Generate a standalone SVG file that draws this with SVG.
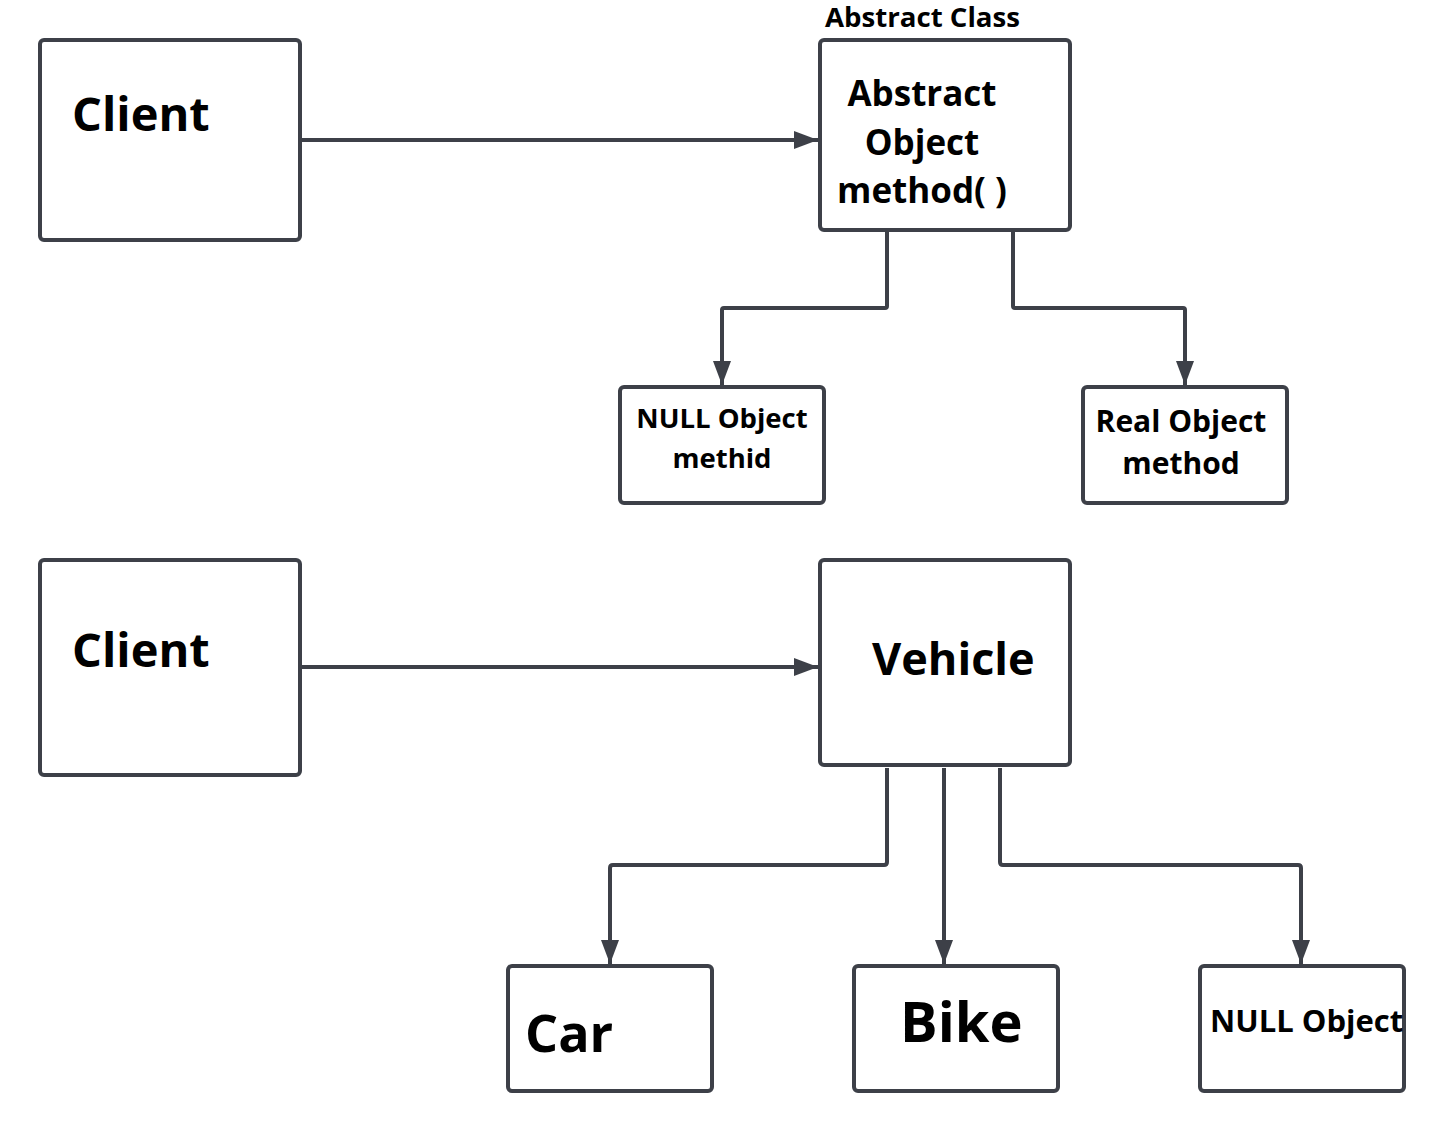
<svg xmlns="http://www.w3.org/2000/svg" width="1444" height="1132" viewBox="0 0 1444 1132">
<style>
.box{fill:#ffffff;stroke:#3d4048;stroke-width:4}
.edge{fill:none;stroke:#3d4048;stroke-width:4;stroke-linejoin:round}
text{font-family:"Open Sans","Liberation Sans",sans-serif;font-weight:700;fill:#000000}
</style>
<defs>
<marker id="arr" markerUnits="userSpaceOnUse" markerWidth="26" markerHeight="20" refX="24" refY="9" orient="auto">
<path d="M0,0 L24,9 L0,18 Z" fill="#3d4048"/>
</marker>
</defs>
<rect width="1444" height="1132" fill="#ffffff"/>
<g id="connectors">
<path class="edge" d="M302,140 H818" marker-end="url(#arr)"/>
<path class="edge" d="M887,232 V306 Q887,308 885,308 H724 Q722,308 722,310 V385" marker-end="url(#arr)"/>
<path class="edge" d="M1013,232 V306 Q1013,308 1015,308 H1183 Q1185,308 1185,310 V385" marker-end="url(#arr)"/>
<path class="edge" d="M302,667 H818" marker-end="url(#arr)"/>
<path class="edge" d="M887,768 V862 Q887,865 884,865 H613 Q610,865 610,868 V964" marker-end="url(#arr)"/>
<path class="edge" d="M944,768 V964" marker-end="url(#arr)"/>
<path class="edge" d="M1000,768 V862 Q1000,865 1003,865 H1298 Q1301,865 1301,868 V964" marker-end="url(#arr)"/>
</g>
<g id="client1">
<rect class="box" x="40" y="40" width="260" height="200" rx="4"/>
<text x="72" y="131" font-size="47">Client</text>
</g>
<g id="abstract">
<text x="825" y="27" font-size="26" textLength="195" lengthAdjust="spacingAndGlyphs">Abstract Class</text>
<rect class="box" x="820" y="40" width="250" height="190" rx="4"/>
<text x="922" y="106" font-size="35" text-anchor="middle">Abstract</text>
<text x="922" y="155" font-size="35" text-anchor="middle">Object</text>
<text x="922" y="203" font-size="35" text-anchor="middle">method( )</text>
</g>
<g id="nullobj1">
<rect class="box" x="620" y="387" width="204" height="116" rx="4"/>
<text x="722" y="428" font-size="27.5" text-anchor="middle">NULL Object</text>
<text x="722" y="468" font-size="27.5" text-anchor="middle">methid</text>
</g>
<g id="realobj">
<rect class="box" x="1083" y="387" width="204" height="116" rx="4"/>
<text x="1181" y="432" font-size="30" text-anchor="middle">Real Object</text>
<text x="1181" y="474" font-size="30" text-anchor="middle">method</text>
</g>
<g id="client2">
<rect class="box" x="40" y="560" width="260" height="215" rx="4"/>
<text x="72" y="667" font-size="47">Client</text>
</g>
<g id="vehicle">
<rect class="box" x="820" y="560" width="250" height="205" rx="4"/>
<text x="872" y="675" font-size="45">Vehicle</text>
</g>
<g id="car">
<rect class="box" x="508" y="966" width="204" height="125" rx="4"/>
<text x="525" y="1052" font-size="52">Car</text>
</g>
<g id="bike">
<rect class="box" x="854" y="966" width="204" height="125" rx="4"/>
<text x="900" y="1042" font-size="56">Bike</text>
</g>
<g id="nullobj2">
<rect class="box" x="1200" y="966" width="204" height="125" rx="4"/>
<text x="1210" y="1032" font-size="31">NULL Object</text>
</g>
</svg>
